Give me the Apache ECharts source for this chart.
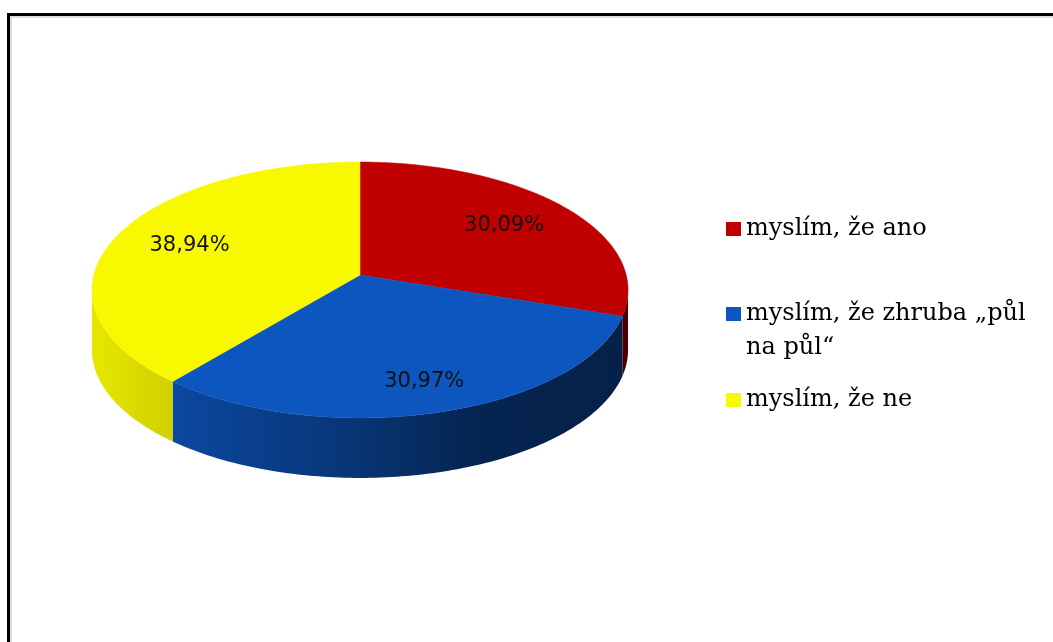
<!DOCTYPE html>
<html>
<head>
<meta charset="utf-8">
<title>3D pie</title>
<script src="https://cdn.jsdelivr.net/npm/echarts@6/dist/echarts.min.js"></script>
<style>
html, body { margin: 0; padding: 0; background: #fff; }
#main { width: 1053px; height: 642px; }
</style>
</head>
<body>
<div id="main"></div>
<script>
const categories = ['myslím, že ano', 'myslím, že zhruba „půl na půl“', 'myslím, že ne'];
const values = [30.09, 30.97, 38.94];
const labels = ['30,09%', '30,97%', '38,94%'];
const colors = ['#c00000', '#0d56bf', '#f8f800'];

// tilted disc geometry (px), perspective factor and thickness
const cx = 360, cy = 275;
const ax = 266.2, by = 126.2, persp = 0.117, depth = 60;
const labelR = [0.7, 0.8, 0.7];
const legendTops = [212, 263, 383];

const total = values.reduce((a, b) => a + b, 0);

function proj(theta, r) {
  const u = r * Math.sin(theta), v = r * Math.cos(theta);
  const w = 1 + persp * v;
  return [cx + ax * u / w, cy - by * v / w];
}

function arc(a, b, r) {
  const pts = [];
  const n = Math.max(2, Math.ceil((b - a) / (Math.PI / 180)));
  for (let j = 0; j <= n; j++) pts.push(proj(a + (b - a) * j / n, r));
  return pts;
}

function shade(hex, f) {
  const c = parseInt(hex.slice(1), 16);
  const r = Math.round(((c >> 16) & 255) * f);
  const g = Math.round(((c >> 8) & 255) * f);
  const b = Math.round((c & 255) * f);
  return 'rgb(' + r + ',' + g + ',' + b + ')';
}

function sideFill(hex) {
  return {
    type: 'linear', global: true,
    x: cx - ax - 2, y: 0, x2: cx + ax + 2, y2: 0,
    colorStops: [
      { offset: 0, color: shade(hex, 0.93) },
      { offset: 0.15, color: shade(hex, 0.84) },
      { offset: 0.5, color: shade(hex, 0.6) },
      { offset: 0.72, color: shade(hex, 0.42) },
      { offset: 1, color: shade(hex, 0.38) }
    ]
  };
}

function makeSlice(i) {
  return function (params, api) {
    let before = 0;
    for (let k = 0; k < i; k++) before += values[k];
    const a = before / total * Math.PI * 2;
    const b = (before + values[i]) / total * Math.PI * 2;
    const children = [];

    // visible side wall (front half only)
    const f1 = Math.acos(-persp), f2 = Math.PI * 2 - f1;
    const s = Math.max(a, f1), e = Math.min(b, f2);
    if (e > s) {
      const top = arc(s, e, 1);
      const bottom = top.slice().reverse().map(p => [p[0], p[1] + depth]);
      children.push({
        type: 'polygon',
        shape: { points: top.concat(bottom) },
        style: { fill: sideFill(colors[i]) }
      });
    }

    // top face
    children.push({
      type: 'polygon',
      shape: { points: [proj(0, 0)].concat(arc(a, b, 1)) },
      style: { fill: colors[i], stroke: colors[i], lineWidth: 0.5 }
    });

    const mid = (a + b) / 2;
    const lp = proj(mid, labelR[i]);
    children.push({
      type: 'text',
      style: {
        text: labels[i], x: lp[0], y: lp[1],
        align: 'center', verticalAlign: 'middle',
        font: '21px "DejaVu Sans"', fill: '#111'
      }
    });
    return { type: 'group', children: children };
  };
}

const chart = echarts.init(document.getElementById('main'));

chart.setOption({
  animation: false,
  graphic: [
    { type: 'polyline', shape: { points: [[11, 650], [11, 17], [1060, 17]] },
      style: { stroke: '#dcdcdc', lineWidth: 2, fill: null } },
    { type: 'polyline', shape: { points: [[8.5, 650], [8.5, 14.5], [1060, 14.5]] },
      style: { stroke: '#000', lineWidth: 3, fill: null } }
  ],
  legend: categories.map((name, i) => ({
    data: [name],
    left: 726,
    top: legendTops[i],
    padding: 0,
    icon: 'rect',
    itemWidth: 15,
    itemHeight: 14,
    selectedMode: false,
    // the long entry wraps before "na půl", first line level with the marker
    formatter: i === 1 ? (n => '\n' + n.replace(' na půl', '\nna půl')) : '{name}',
    textStyle: {
      fontFamily: 'DejaVu Serif', fontSize: 24, color: '#000',
      lineHeight: 34
    }
  })),
  series: categories.map((name, i) => ({
    type: 'custom',
    name: name,
    coordinateSystem: 'none',
    itemStyle: { color: colors[i] },
    data: [values[i]],
    renderItem: makeSlice(i)
  }))
});
</script>
</body>
</html>
